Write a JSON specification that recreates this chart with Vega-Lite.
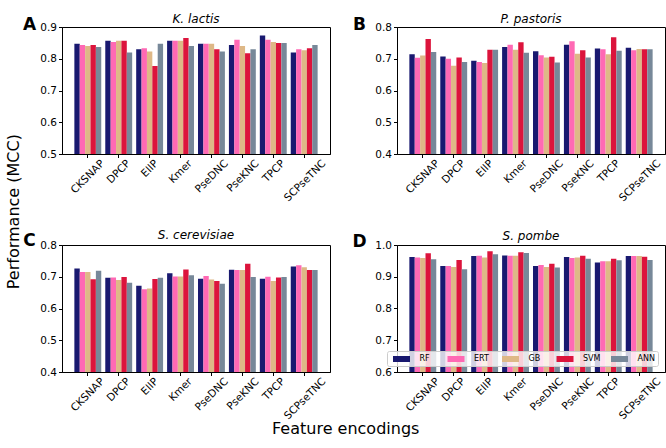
{
  "$schema": "https://vega.github.io/schema/vega-lite/v6.json",
  "padding": {"left": 5, "top": 12, "right": 5, "bottom": 2},
  "background": "white",
  "data": {"values": [
    {"panel":"A","feature":"CKSNAP","model":"RF","mcc":0.847},{"panel":"A","feature":"CKSNAP","model":"ERT","mcc":0.843},{"panel":"A","feature":"CKSNAP","model":"GB","mcc":0.840},{"panel":"A","feature":"CKSNAP","model":"SVM","mcc":0.843},{"panel":"A","feature":"CKSNAP","model":"ANN","mcc":0.837},
    {"panel":"A","feature":"DPCP","model":"RF","mcc":0.857},{"panel":"A","feature":"DPCP","model":"ERT","mcc":0.853},{"panel":"A","feature":"DPCP","model":"GB","mcc":0.857},{"panel":"A","feature":"DPCP","model":"SVM","mcc":0.857},{"panel":"A","feature":"DPCP","model":"ANN","mcc":0.820},
    {"panel":"A","feature":"EIIP","model":"RF","mcc":0.830},{"panel":"A","feature":"EIIP","model":"ERT","mcc":0.833},{"panel":"A","feature":"EIIP","model":"GB","mcc":0.823},{"panel":"A","feature":"EIIP","model":"SVM","mcc":0.777},{"panel":"A","feature":"EIIP","model":"ANN","mcc":0.847},
    {"panel":"A","feature":"Kmer","model":"RF","mcc":0.857},{"panel":"A","feature":"Kmer","model":"ERT","mcc":0.857},{"panel":"A","feature":"Kmer","model":"GB","mcc":0.857},{"panel":"A","feature":"Kmer","model":"SVM","mcc":0.865},{"panel":"A","feature":"Kmer","model":"ANN","mcc":0.840},
    {"panel":"A","feature":"PseDNC","model":"RF","mcc":0.847},{"panel":"A","feature":"PseDNC","model":"ERT","mcc":0.847},{"panel":"A","feature":"PseDNC","model":"GB","mcc":0.847},{"panel":"A","feature":"PseDNC","model":"SVM","mcc":0.830},{"panel":"A","feature":"PseDNC","model":"ANN","mcc":0.823},
    {"panel":"A","feature":"PseKNC","model":"RF","mcc":0.843},{"panel":"A","feature":"PseKNC","model":"ERT","mcc":0.860},{"panel":"A","feature":"PseKNC","model":"GB","mcc":0.840},{"panel":"A","feature":"PseKNC","model":"SVM","mcc":0.817},{"panel":"A","feature":"PseKNC","model":"ANN","mcc":0.830},
    {"panel":"A","feature":"TPCP","model":"RF","mcc":0.873},{"panel":"A","feature":"TPCP","model":"ERT","mcc":0.860},{"panel":"A","feature":"TPCP","model":"GB","mcc":0.853},{"panel":"A","feature":"TPCP","model":"SVM","mcc":0.850},{"panel":"A","feature":"TPCP","model":"ANN","mcc":0.850},
    {"panel":"A","feature":"SCPseTNC","model":"RF","mcc":0.820},{"panel":"A","feature":"SCPseTNC","model":"ERT","mcc":0.830},{"panel":"A","feature":"SCPseTNC","model":"GB","mcc":0.827},{"panel":"A","feature":"SCPseTNC","model":"SVM","mcc":0.833},{"panel":"A","feature":"SCPseTNC","model":"ANN","mcc":0.843},

    {"panel":"B","feature":"CKSNAP","model":"RF","mcc":0.714},{"panel":"B","feature":"CKSNAP","model":"ERT","mcc":0.703},{"panel":"B","feature":"CKSNAP","model":"GB","mcc":0.710},{"panel":"B","feature":"CKSNAP","model":"SVM","mcc":0.762},{"panel":"B","feature":"CKSNAP","model":"ANN","mcc":0.721},
    {"panel":"B","feature":"DPCP","model":"RF","mcc":0.707},{"panel":"B","feature":"DPCP","model":"ERT","mcc":0.700},{"panel":"B","feature":"DPCP","model":"GB","mcc":0.678},{"panel":"B","feature":"DPCP","model":"SVM","mcc":0.704},{"panel":"B","feature":"DPCP","model":"ANN","mcc":0.690},
    {"panel":"B","feature":"EIIP","model":"RF","mcc":0.694},{"panel":"B","feature":"EIIP","model":"ERT","mcc":0.690},{"panel":"B","feature":"EIIP","model":"GB","mcc":0.687},{"panel":"B","feature":"EIIP","model":"SVM","mcc":0.728},{"panel":"B","feature":"EIIP","model":"ANN","mcc":0.728},
    {"panel":"B","feature":"Kmer","model":"RF","mcc":0.737},{"panel":"B","feature":"Kmer","model":"ERT","mcc":0.744},{"panel":"B","feature":"Kmer","model":"GB","mcc":0.728},{"panel":"B","feature":"Kmer","model":"SVM","mcc":0.752},{"panel":"B","feature":"Kmer","model":"ANN","mcc":0.719},
    {"panel":"B","feature":"PseDNC","model":"RF","mcc":0.724},{"panel":"B","feature":"PseDNC","model":"ERT","mcc":0.711},{"panel":"B","feature":"PseDNC","model":"GB","mcc":0.704},{"panel":"B","feature":"PseDNC","model":"SVM","mcc":0.706},{"panel":"B","feature":"PseDNC","model":"ANN","mcc":0.688},
    {"panel":"B","feature":"PseKNC","model":"RF","mcc":0.744},{"panel":"B","feature":"PseKNC","model":"ERT","mcc":0.755},{"panel":"B","feature":"PseKNC","model":"GB","mcc":0.716},{"panel":"B","feature":"PseKNC","model":"SVM","mcc":0.727},{"panel":"B","feature":"PseKNC","model":"ANN","mcc":0.704},
    {"panel":"B","feature":"TPCP","model":"RF","mcc":0.732},{"panel":"B","feature":"TPCP","model":"ERT","mcc":0.730},{"panel":"B","feature":"TPCP","model":"GB","mcc":0.714},{"panel":"B","feature":"TPCP","model":"SVM","mcc":0.768},{"panel":"B","feature":"TPCP","model":"ANN","mcc":0.725},
    {"panel":"B","feature":"SCPseTNC","model":"RF","mcc":0.735},{"panel":"B","feature":"SCPseTNC","model":"ERT","mcc":0.727},{"panel":"B","feature":"SCPseTNC","model":"GB","mcc":0.731},{"panel":"B","feature":"SCPseTNC","model":"SVM","mcc":0.730},{"panel":"B","feature":"SCPseTNC","model":"ANN","mcc":0.730},

    {"panel":"C","feature":"CKSNAP","model":"RF","mcc":0.726},{"panel":"C","feature":"CKSNAP","model":"ERT","mcc":0.715},{"panel":"C","feature":"CKSNAP","model":"GB","mcc":0.715},{"panel":"C","feature":"CKSNAP","model":"SVM","mcc":0.692},{"panel":"C","feature":"CKSNAP","model":"ANN","mcc":0.719},
    {"panel":"C","feature":"DPCP","model":"RF","mcc":0.697},{"panel":"C","feature":"DPCP","model":"ERT","mcc":0.698},{"panel":"C","feature":"DPCP","model":"GB","mcc":0.690},{"panel":"C","feature":"DPCP","model":"SVM","mcc":0.699},{"panel":"C","feature":"DPCP","model":"ANN","mcc":0.681},
    {"panel":"C","feature":"EIIP","model":"RF","mcc":0.672},{"panel":"C","feature":"EIIP","model":"ERT","mcc":0.661},{"panel":"C","feature":"EIIP","model":"GB","mcc":0.663},{"panel":"C","feature":"EIIP","model":"SVM","mcc":0.693},{"panel":"C","feature":"EIIP","model":"ANN","mcc":0.697},
    {"panel":"C","feature":"Kmer","model":"RF","mcc":0.711},{"panel":"C","feature":"Kmer","model":"ERT","mcc":0.701},{"panel":"C","feature":"Kmer","model":"GB","mcc":0.701},{"panel":"C","feature":"Kmer","model":"SVM","mcc":0.723},{"panel":"C","feature":"Kmer","model":"ANN","mcc":0.705},
    {"panel":"C","feature":"PseDNC","model":"RF","mcc":0.694},{"panel":"C","feature":"PseDNC","model":"ERT","mcc":0.702},{"panel":"C","feature":"PseDNC","model":"GB","mcc":0.691},{"panel":"C","feature":"PseDNC","model":"SVM","mcc":0.687},{"panel":"C","feature":"PseDNC","model":"ANN","mcc":0.678},
    {"panel":"C","feature":"PseKNC","model":"RF","mcc":0.722},{"panel":"C","feature":"PseKNC","model":"ERT","mcc":0.721},{"panel":"C","feature":"PseKNC","model":"GB","mcc":0.721},{"panel":"C","feature":"PseKNC","model":"SVM","mcc":0.741},{"panel":"C","feature":"PseKNC","model":"ANN","mcc":0.699},
    {"panel":"C","feature":"TPCP","model":"RF","mcc":0.694},{"panel":"C","feature":"TPCP","model":"ERT","mcc":0.700},{"panel":"C","feature":"TPCP","model":"GB","mcc":0.687},{"panel":"C","feature":"TPCP","model":"SVM","mcc":0.698},{"panel":"C","feature":"TPCP","model":"ANN","mcc":0.699},
    {"panel":"C","feature":"SCPseTNC","model":"RF","mcc":0.732},{"panel":"C","feature":"SCPseTNC","model":"ERT","mcc":0.736},{"panel":"C","feature":"SCPseTNC","model":"GB","mcc":0.730},{"panel":"C","feature":"SCPseTNC","model":"SVM","mcc":0.721},{"panel":"C","feature":"SCPseTNC","model":"ANN","mcc":0.721},

    {"panel":"D","feature":"CKSNAP","model":"RF","mcc":0.962},{"panel":"D","feature":"CKSNAP","model":"ERT","mcc":0.961},{"panel":"D","feature":"CKSNAP","model":"GB","mcc":0.959},{"panel":"D","feature":"CKSNAP","model":"SVM","mcc":0.974},{"panel":"D","feature":"CKSNAP","model":"ANN","mcc":0.955},
    {"panel":"D","feature":"DPCP","model":"RF","mcc":0.934},{"panel":"D","feature":"DPCP","model":"ERT","mcc":0.934},{"panel":"D","feature":"DPCP","model":"GB","mcc":0.931},{"panel":"D","feature":"DPCP","model":"SVM","mcc":0.953},{"panel":"D","feature":"DPCP","model":"ANN","mcc":0.924},
    {"panel":"D","feature":"EIIP","model":"RF","mcc":0.965},{"panel":"D","feature":"EIIP","model":"ERT","mcc":0.966},{"panel":"D","feature":"EIIP","model":"GB","mcc":0.961},{"panel":"D","feature":"EIIP","model":"SVM","mcc":0.980},{"panel":"D","feature":"EIIP","model":"ANN","mcc":0.971},
    {"panel":"D","feature":"Kmer","model":"RF","mcc":0.967},{"panel":"D","feature":"Kmer","model":"ERT","mcc":0.966},{"panel":"D","feature":"Kmer","model":"GB","mcc":0.966},{"panel":"D","feature":"Kmer","model":"SVM","mcc":0.977},{"panel":"D","feature":"Kmer","model":"ANN","mcc":0.975},
    {"panel":"D","feature":"PseDNC","model":"RF","mcc":0.934},{"panel":"D","feature":"PseDNC","model":"ERT","mcc":0.937},{"panel":"D","feature":"PseDNC","model":"GB","mcc":0.931},{"panel":"D","feature":"PseDNC","model":"SVM","mcc":0.941},{"panel":"D","feature":"PseDNC","model":"ANN","mcc":0.929},
    {"panel":"D","feature":"PseKNC","model":"RF","mcc":0.962},{"panel":"D","feature":"PseKNC","model":"ERT","mcc":0.959},{"panel":"D","feature":"PseKNC","model":"GB","mcc":0.961},{"panel":"D","feature":"PseKNC","model":"SVM","mcc":0.966},{"panel":"D","feature":"PseKNC","model":"ANN","mcc":0.957},
    {"panel":"D","feature":"TPCP","model":"RF","mcc":0.945},{"panel":"D","feature":"TPCP","model":"ERT","mcc":0.949},{"panel":"D","feature":"TPCP","model":"GB","mcc":0.949},{"panel":"D","feature":"TPCP","model":"SVM","mcc":0.957},{"panel":"D","feature":"TPCP","model":"ANN","mcc":0.952},
    {"panel":"D","feature":"SCPseTNC","model":"RF","mcc":0.965},{"panel":"D","feature":"SCPseTNC","model":"ERT","mcc":0.965},{"panel":"D","feature":"SCPseTNC","model":"GB","mcc":0.965},{"panel":"D","feature":"SCPseTNC","model":"SVM","mcc":0.963},{"panel":"D","feature":"SCPseTNC","model":"ANN","mcc":0.953}
  ]},
  "title": {"text": "Performance (MCC)", "orient": "left", "anchor": "middle", "offset": -8, "dy": -8, "dx": 13, "font": "DejaVu Sans", "fontSize": 16, "fontStyle": "normal", "fontWeight": "normal", "color": "black"},
  "vconcat": [
    {
      "title": {"text": "Feature encodings", "orient": "bottom", "anchor": "middle", "offset": -1, "dx": 2, "font": "DejaVu Sans", "fontSize": 16, "fontStyle": "normal", "fontWeight": "normal", "color": "black"},
      "columns": 2,
      "spacing": {"row": 24, "column": 20},
      "concat": [
        {
          "title": {"text": "K. lactis"},
          "transform": [{"filter": "datum.panel == 'A'"}],
          "width": 268, "height": 127,
          "mark": {"type": "bar", "clip": true},
          "encoding": {
            "x": {"field": "feature", "type": "nominal", "sort": ["CKSNAP","DPCP","EIIP","Kmer","PseDNC","PseKNC","TPCP","SCPseTNC"], "scale": {"paddingInner": 0.13, "paddingOuter": 0.4},
                  "axis": {"title": null, "labelAngle": -45, "labelAlign": "right", "labelBaseline": "middle", "labelPadding": 4, "labelOverlap": false, "labelBound": false,
                           "labelOffset": {"expr": "datum.label == 'EIIP' ? 7 : length(datum.label) * 2.5"}}},
            "xOffset": {"field": "model", "type": "nominal", "sort": ["RF","ERT","GB","SVM","ANN"]},
            "y": {"field": "mcc", "type": "quantitative", "scale": {"domain": [0.5, 0.9], "nice": false, "zero": false},
                  "axis": {"values": [0.5,0.6,0.7,0.8,0.9], "format": ".1f", "title": "A", "titleAngle": 0, "titleX": -33, "titleY": 2, "titleAlign": "center", "titleBaseline": "alphabetic", "titleFontWeight": "bold", "titleFontSize": 17}},
            "color": {"field": "model", "type": "nominal", "sort": ["RF","ERT","GB","SVM","ANN"], "scale": {"domain": ["RF","ERT","GB","SVM","ANN"], "range": ["#191970","#ff69b4","#deb887","#dc143c","#778899"]}, "legend": null}
          }
        },
        {
          "title": {"text": "P. pastoris"},
          "transform": [{"filter": "datum.panel == 'B'"}],
          "width": 268, "height": 127,
          "mark": {"type": "bar", "clip": true},
          "encoding": {
            "x": {"field": "feature", "type": "nominal", "sort": ["CKSNAP","DPCP","EIIP","Kmer","PseDNC","PseKNC","TPCP","SCPseTNC"], "scale": {"paddingInner": 0.13, "paddingOuter": 0.4},
                  "axis": {"title": null, "labelAngle": -45, "labelAlign": "right", "labelBaseline": "middle", "labelPadding": 4, "labelOverlap": false, "labelBound": false,
                           "labelOffset": {"expr": "datum.label == 'EIIP' ? 7 : length(datum.label) * 2.5"}}},
            "xOffset": {"field": "model", "type": "nominal", "sort": ["RF","ERT","GB","SVM","ANN"]},
            "y": {"field": "mcc", "type": "quantitative", "scale": {"domain": [0.4, 0.8], "nice": false, "zero": false},
                  "axis": {"values": [0.4,0.5,0.6,0.7,0.8], "format": ".1f", "title": "B", "titleAngle": 0, "titleX": -38, "titleY": 2, "titleAlign": "center", "titleBaseline": "alphabetic", "titleFontWeight": "bold", "titleFontSize": 17}},
            "color": {"field": "model", "type": "nominal", "sort": ["RF","ERT","GB","SVM","ANN"], "scale": {"domain": ["RF","ERT","GB","SVM","ANN"], "range": ["#191970","#ff69b4","#deb887","#dc143c","#778899"]}, "legend": null}
          }
        },
        {
          "title": {"text": "S. cerevisiae"},
          "transform": [{"filter": "datum.panel == 'C'"}],
          "width": 268, "height": 127,
          "mark": {"type": "bar", "clip": true},
          "encoding": {
            "x": {"field": "feature", "type": "nominal", "sort": ["CKSNAP","DPCP","EIIP","Kmer","PseDNC","PseKNC","TPCP","SCPseTNC"], "scale": {"paddingInner": 0.13, "paddingOuter": 0.4},
                  "axis": {"title": null, "labelAngle": -45, "labelAlign": "right", "labelBaseline": "middle", "labelPadding": 4, "labelOverlap": false, "labelBound": false,
                           "labelOffset": {"expr": "datum.label == 'EIIP' ? 7 : length(datum.label) * 2.5"}}},
            "xOffset": {"field": "model", "type": "nominal", "sort": ["RF","ERT","GB","SVM","ANN"]},
            "y": {"field": "mcc", "type": "quantitative", "scale": {"domain": [0.4, 0.8], "nice": false, "zero": false},
                  "axis": {"values": [0.4,0.5,0.6,0.7,0.8], "format": ".1f", "title": "C", "titleAngle": 0, "titleX": -33, "titleY": 0, "titleAlign": "center", "titleBaseline": "alphabetic", "titleFontWeight": "bold", "titleFontSize": 17}},
            "color": {"field": "model", "type": "nominal", "sort": ["RF","ERT","GB","SVM","ANN"], "scale": {"domain": ["RF","ERT","GB","SVM","ANN"], "range": ["#191970","#ff69b4","#deb887","#dc143c","#778899"]}, "legend": null}
          }
        },
        {
          "title": {"text": "S. pombe"},
          "transform": [{"filter": "datum.panel == 'D'"}],
          "width": 268, "height": 127,
          "mark": {"type": "bar", "clip": true},
          "encoding": {
            "x": {"field": "feature", "type": "nominal", "sort": ["CKSNAP","DPCP","EIIP","Kmer","PseDNC","PseKNC","TPCP","SCPseTNC"], "scale": {"paddingInner": 0.13, "paddingOuter": 0.4},
                  "axis": {"title": null, "labelAngle": -45, "labelAlign": "right", "labelBaseline": "middle", "labelPadding": 4, "labelOverlap": false, "labelBound": false,
                           "labelOffset": {"expr": "datum.label == 'EIIP' ? 7 : length(datum.label) * 2.5"}}},
            "xOffset": {"field": "model", "type": "nominal", "sort": ["RF","ERT","GB","SVM","ANN"]},
            "y": {"field": "mcc", "type": "quantitative", "scale": {"domain": [0.6, 1.0], "nice": false, "zero": false},
                  "axis": {"values": [0.6,0.7,0.8,0.9,1.0], "format": ".1f", "title": "D", "titleAngle": 0, "titleX": -38, "titleY": 1, "titleAlign": "center", "titleBaseline": "alphabetic", "titleFontWeight": "bold", "titleFontSize": 17}},
            "color": {"field": "model", "type": "nominal", "sort": ["RF","ERT","GB","SVM","ANN"], "scale": {"domain": ["RF","ERT","GB","SVM","ANN"], "range": ["#191970","#ff69b4","#deb887","#dc143c","#778899"]},
                      "legend": {"title": null, "orient": "none", "legendX": -10, "legendY": 106, "direction": "horizontal", "columns": 5, "gridAlign": "all",
                                 "symbolType": "M-1.7,-0.6h3.4v1.2h-3.4z", "symbolSize": 100, "symbolOffset": 6.5, "symbolStrokeWidth": 0, "symbolOpacity": 1,
                                 "labelFont": "DejaVu Sans", "labelFontSize": 8, "labelColor": "black", "labelOffset": 13, "columnPadding": 7.5,
                                 "padding": 3, "fillColor": "rgba(255,255,255,0.8)", "strokeColor": "#cccccc", "cornerRadius": 2}}
          }
        }
      ],
      "resolve": {"scale": {"x": "independent", "y": "independent"}, "axis": {"x": "independent", "y": "independent"}, "legend": {"color": "independent"}}
    }
  ],
  "resolve": {"legend": {"color": "independent"}},
  "config": {
    "view": {"stroke": "black", "strokeWidth": 1},
    "font": "DejaVu Sans",
    "title": {"font": "DejaVu Sans", "fontSize": 12, "fontStyle": "italic", "fontWeight": "normal", "offset": -11, "color": "black"},
    "axis": {"labelFont": "DejaVu Sans", "labelFontSize": 10.5, "labelColor": "black", "titleFont": "DejaVu Sans", "titleColor": "black", "domainColor": "black", "tickColor": "black", "grid": false, "tickSize": 3.5, "labelPadding": 2}
  }
}
